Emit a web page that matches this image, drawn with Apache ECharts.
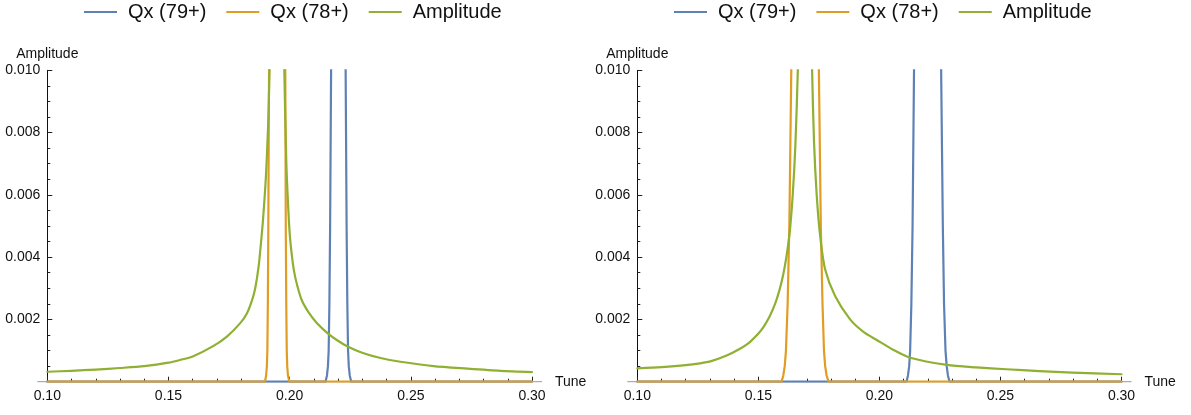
<!DOCTYPE html>
<html>
<head>
<meta charset="utf-8">
<title>Tune vs Amplitude</title>
<script src="https://cdn.jsdelivr.net/npm/echarts@6/dist/echarts.min.js"></script>
<style>
html,body{margin:0;padding:0;background:#fff;}
#main{width:1191px;height:415px;}
</style>
</head>
<body>
<div id="main"></div>
<script>
// series names
var names = ['Qx (79+)', 'Qx (78+)', 'Amplitude'];
var colors = ['#5E81B5', '#E19C24', '#8FB032'];

// x tick labels / y tick labels
var xTicks = [0.10, 0.15, 0.20, 0.25, 0.30];
var yTicks = [0.002, 0.004, 0.006, 0.008, 0.010];

// left plot  [tune, amplitude]
var left79 = [[0.100,0],[0.2148,0],[0.2154,0.0002],[0.2158,0.0005],[0.2161,0.0010],[0.2164,0.0025],[0.2167,0.0050],[0.2171,0.0100],[0.2173,0.012],
              [0.2229,0.012],[0.2231,0.0100],[0.2235,0.0050],[0.2238,0.0025],[0.2241,0.0010],[0.2244,0.0005],[0.2248,0.0002],[0.2254,0],[0.300,0]];
var left78 = [[0.100,0],[0.1898,0],[0.1903,0.0002],[0.1906,0.0005],[0.1908,0.0010],[0.1910,0.0025],[0.1912,0.0050],[0.1915,0.0100],[0.1917,0.012],
              [0.1980,0.012],[0.1982,0.0100],[0.1984,0.0050],[0.1986,0.0025],[0.1988,0.0010],[0.1990,0.0005],[0.1993,0.0002],[0.1999,0],[0.300,0]];
var leftAmp = [[0.100,0.00032],[0.110,0.00035],[0.120,0.00039],[0.130,0.00044],[0.140,0.00050],[0.150,0.00061],[0.1549,0.00070],[0.160,0.00081],
               [0.1686,0.00115],[0.1741,0.00145],[0.1796,0.00188],[0.1824,0.00220],[0.1845,0.00262],[0.1858,0.00300],[0.1872,0.00370],[0.1881,0.00440],
               [0.1890,0.00519],[0.1902,0.00658],[0.1911,0.00819],[0.1917,0.0100],[0.1921,0.012],
               [0.1974,0.012],[0.1978,0.0100],[0.1986,0.0071],[0.1996,0.0053],[0.2003,0.0045],[0.2017,0.0036],[0.2031,0.0031],[0.2051,0.0026],
               [0.2079,0.00222],[0.2113,0.00188],[0.2155,0.00157],[0.2196,0.00133],[0.2237,0.00114],[0.2299,0.00093],[0.2375,0.00076],
               [0.2457,0.00064],[0.2594,0.00050],[0.2733,0.00042],[0.2870,0.00035],[0.300,0.00031]];

// right plot
var right79 = [[0.100,0],[0.2112,0],[0.2118,0.0002],[0.2123,0.0005],[0.2127,0.0010],[0.2132,0.0025],[0.2137,0.0050],[0.2143,0.0100],[0.2146,0.013],
               [0.2252,0.013],[0.2255,0.0100],[0.2262,0.0050],[0.2267,0.0025],[0.2273,0.0010],[0.2278,0.0005],[0.2283,0.0002],[0.2290,0],[0.300,0]];
var right78 = [[0.100,0],[0.1596,0],[0.1603,0.0002],[0.1609,0.0005],[0.1614,0.0010],[0.1621,0.0025],[0.1628,0.0050],[0.1636,0.0100],[0.1640,0.013],
               [0.1746,0.013],[0.1750,0.0100],[0.1758,0.0050],[0.1765,0.0025],[0.1771,0.0010],[0.1776,0.0005],[0.1782,0.0002],[0.1790,0],[0.300,0]];
var rightAmp = [[0.100,0.00043],[0.110,0.00047],[0.120,0.00053],[0.1259,0.00059],[0.1305,0.00066],[0.1369,0.00084],[0.1420,0.00104],[0.1466,0.00128],
                [0.1521,0.00175],[0.1569,0.00250],[0.1603,0.00345],[0.1628,0.00470],[0.1642,0.00600],[0.1653,0.00760],[0.1663,0.0100],[0.1667,0.012],
                [0.1718,0.012],[0.1722,0.0100],[0.1730,0.0077],[0.1741,0.0060],[0.1755,0.0047],[0.1776,0.0036],[0.1817,0.00275],[0.1879,0.00200],
                [0.1934,0.00160],[0.1989,0.00134],[0.2058,0.00102],[0.2127,0.00077],[0.2279,0.00054],[0.2400,0.00046],[0.2524,0.00040],[0.2660,0.00034],
                [0.2797,0.00029],[0.300,0.00024]];

window.onload=function(){

    var myChart=echarts.init(document.getElementById('main'), null, {renderer:'canvas'});
    var font='"Liberation Sans", Arial, Helvetica, sans-serif';

    function makeX(idx){
        return {
            type:'value', gridIndex:idx,
            min:xTicks[0], max:xTicks[xTicks.length-1], interval:0.05,
            name:'Tune', nameLocation:'end', nameGap:23,
            nameTextStyle:{fontSize:14, color:'#111', fontFamily:font, verticalAlign:'middle'},
            axisLine:{show:true, onZero:false, lineStyle:{color:'#999', width:1}},
            axisTick:{show:true, inside:true, length:5, lineStyle:{color:'#222'}},
            minorTick:{show:true, splitNumber:5, length:3, lineStyle:{color:'#222'}},
            splitLine:{show:false},
            axisLabel:{fontSize:14, color:'#111', fontFamily:font, margin:7,
                formatter:function(v){ return v.toFixed(2); }}
        };
    }
    function makeY(idx){
        return {
            type:'value', gridIndex:idx,
            min:0, max:yTicks[yTicks.length-1], interval:0.002,
            name:'Amplitude', nameLocation:'end', nameGap:9,
            nameTextStyle:{fontSize:14, color:'#111', fontFamily:font, align:'center'},
            axisLine:{show:true, lineStyle:{color:'#111', width:1}},
            axisTick:{show:true, inside:true, length:5, lineStyle:{color:'#222'}},
            minorTick:{show:true, splitNumber:4, length:3, lineStyle:{color:'#222'}},
            splitLine:{show:false},
            axisLabel:{fontSize:14, color:'#111', fontFamily:font, margin:7,
                formatter:function(v){ return v===0 ? '' : v.toFixed(3); }}
        };
    }
    function makeLine(name, data, idx, color, z){
        return {
            name:name, type:'line', xAxisIndex:idx, yAxisIndex:idx,
            data:data, symbol:'none', showSymbol:false, smooth:false, z:z,
            lineStyle:{color:color, width:2.2, join:'round', cap:'round'}, itemStyle:{color:color}
        };
    }
    function makeAmp(data, idx){
        var s=makeLine(names[2], data, idx, colors[2], 4);
        s.smooth=0.25;
        return s;
    }
    function makeLegend(left){
        return {
            left:left, top:2, padding:0,
            icon:'rect', itemWidth:33, itemHeight:2, itemGap:20,
            data:names,
            textStyle:{fontSize:20, color:'#111', fontFamily:font, padding:[0,0,0,6]}
        };
    }

    var option={
        animation:false,
        color:colors,
        legend:[makeLegend(84), makeLegend(674)],
        grid:[
            {left:47.3, right:659, top:70.3, bottom:33.3},
            {left:637.3, right:69.5, top:70.3, bottom:33.3}
        ],
        xAxis:[makeX(0), makeX(1)],
        yAxis:[makeY(0), makeY(1)],
        series:[
            makeLine(names[0], left79, 0, colors[0], 2),
            makeLine(names[1], left78, 0, colors[1], 3),
            makeAmp(leftAmp, 0),
            makeLine(names[0], right79, 1, colors[0], 2),
            makeLine(names[1], right78, 1, colors[1], 3),
            makeAmp(rightAmp, 1)
        ]
    };

    myChart.setOption(option);

    // the x axis line runs a little past both ends of the plot range
    var ext=[];
    for(var g=0; g<2; g++){
        var a=myChart.convertToPixel({gridIndex:g}, [xTicks[0], 0]);
        var b=myChart.convertToPixel({gridIndex:g}, [xTicks[xTicks.length-1], 0]);
        ext.push({type:'line', z:1, silent:true,
            shape:{x1:a[0]-10, y1:a[1], x2:b[0]+10, y2:b[1]},
            style:{stroke:'#999', lineWidth:1}});
    }
    myChart.setOption({graphic:ext});
}
</script>
</body>
</html>
